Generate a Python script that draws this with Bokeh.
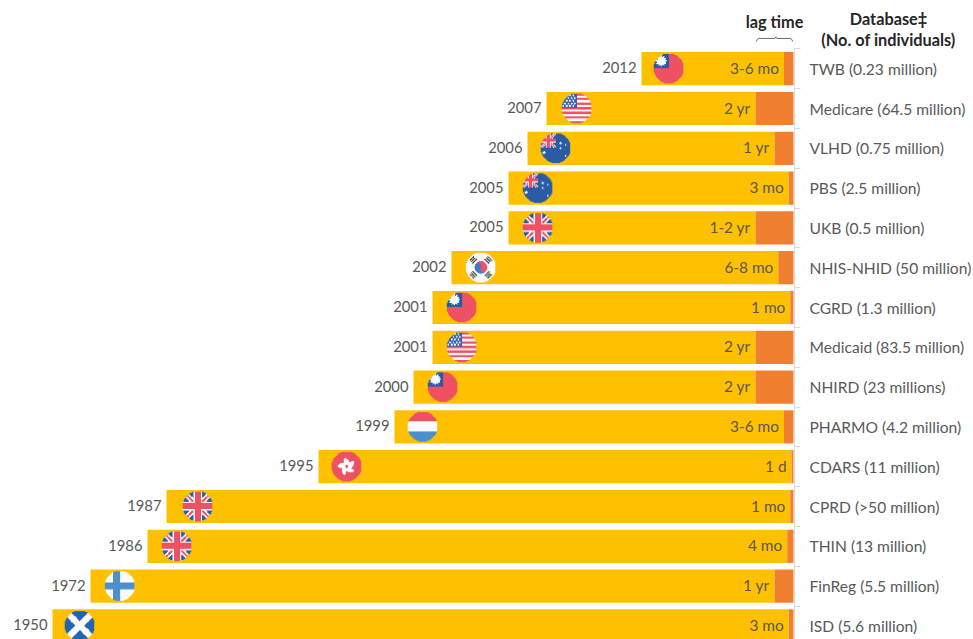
import numpy as np
from bokeh.embed import file_html
from bokeh.models import FixedTicker, LinearAxis, Range1d
from bokeh.core.properties import value
from bokeh.plotting import figure
from bokeh.resources import INLINE

databases = ["TWB (0.23 million)", "Medicare (64.5 million)", "VLHD (0.75 million)", "PBS (2.5 million)",
             "UKB (0.5 million)", "NHIS-NHID (50 million)", "CGRD (1.3 million)", "Medicaid (83.5 million)",
             "NHIRD (23 millions)", "PHARMO (4.2 million)", "CDARS (11 million)", "CPRD (>50 million)",
             "THIN (13 million)", "FinReg (5.5 million)", "ISD (5.6 million)"]
year_labels = ["2012", "2007", "2006", "2005", "2005", "2002", "2001", "2001", "2000", "1999", "1995", "1987",
               "1986", "1972", "1950"]
# Position on the chart's broken time axis (the two earliest bars are compressed in the reference)
axis_start = [2012, 2007, 2006, 2005, 2005, 2002, 2001, 2001, 2000, 1999, 1995, 1987, 1986, 1983, 1981]
axis_end = 2020
lag_years = [0.5, 2, 1, 0.25, 2, 0.8, 0.17, 2, 2, 0.5, 0.1, 0.17, 0.33, 1, 0.25]
lag_labels = ["3-6 mo", "2 yr", "1 yr", "3 mo", "1-2 yr", "6-8 mo", "1 mo", "2 yr", "2 yr", "3-6 mo", "1 d", "1 mo",
              "4 mo", "1 yr", "3 mo"]
flags = ["tw", "us", "au", "au", "uk", "kr", "tw", "us", "tw", "nl", "hk", "uk", "uk", "fi", "sc"]
flag_offset_years = [1.42, 1.58, 1.47, 1.53, 1.53, 1.53, 1.53, 1.53, 1.53, 1.47, 1.47, 1.63, 1.53, 1.53, 1.42]
header_texts = ["lag time", "Database\u2021", "(No. of individuals)"]

GOLD = "#FFC000"
ORANGE = "#F08030"
TEXT = "#595959"
FONT = "Lato"
FS_YEAR = "14.8px"
FS_LAG = "15.4px"
FS_DB = "15.6px"

RED = (238, 80, 100)
BLUE = (42, 92, 165)
LBLUE = (76, 143, 204)
WHITE = (250, 250, 250)
DARK = (85, 85, 85)


def uk_paint(img, X, Y, mask=None):
    m = np.ones_like(X, bool) if mask is None else mask
    img[m] = BLUE
    img[m & (np.abs(np.abs(X) - np.abs(Y)) < 0.25)] = WHITE
    img[m & (np.abs(np.abs(X) - np.abs(Y)) < 0.09)] = RED
    img[m & ((np.abs(X) < 0.3) | (np.abs(Y) < 0.3))] = WHITE
    img[m & ((np.abs(X) < 0.19) | (np.abs(Y) < 0.19))] = RED


def star(X, Y, cx, cy, R, points=5, inner=0.45, rot=np.pi / 2):
    dx, dy = X - cx, Y - cy
    r = np.hypot(dx, dy)
    a = (np.arctan2(dy, dx) - rot) % (2 * np.pi / points)
    a = np.abs(a - np.pi / points) / (np.pi / points)
    return r < R * (inner + (1 - inner) * a ** 2)


def paint_flag(kind, n=64, ss=4):
    N = n * ss
    g = (np.arange(N) + 0.5) / N * 2 - 1
    X, Y = np.meshgrid(g, g)  # row 0 is the lower edge of the image
    img = np.zeros((N, N, 3), float)
    if kind == "uk":
        uk_paint(img, X, Y)
    elif kind == "tw":
        img[:] = RED
        can = (X < 0) & (Y > 0)
        img[can] = (38, 90, 165)
        dx, dy = X + 0.5, Y - 0.5
        r, t = np.hypot(dx, dy), np.arctan2(dy, dx)
        img[can & (r < 0.27 + 0.12 * np.abs(np.cos(6 * t)) ** 2)] = WHITE
    elif kind == "us":
        img[:] = WHITE
        stripe = np.floor((Y + 1) / (2 / 13)).astype(int)
        img[stripe % 2 == 0] = RED
        can = (X < 0) & (Y > 0)
        img[can] = (60, 100, 175)
        cols = np.array([-0.9, -0.68, -0.46, -0.24])
        for j, yy in enumerate([0.86, 0.68, 0.5, 0.32, 0.14]):
            for xx in cols + (0.11 if j % 2 else 0):
                img[can & (np.hypot(X - xx, Y - yy) < 0.06)] = WHITE
    elif kind == "au":
        img[:] = BLUE
        can = (X < 0) & (Y > 0)
        uk_paint(img, (X + 0.5) * 2, (Y - 0.5) * 2, can)
        for cx, cy, R in [(0.33, 0.32, 0.09), (0.67, 0.19, 0.09), (0.33, -0.02, 0.08), (0.67, -0.53, 0.09),
                          (-0.78, -0.32, 0.12)]:
            img[star(X, Y, cx, cy, R, 5, inner=0.6)] = WHITE
    elif kind == "kr":
        img[:] = WHITE
        c, s = np.cos(np.radians(-30)), np.sin(np.radians(-30))
        u, v = c * X + s * Y, -s * X + c * Y
        R = 0.42
        red = v > 0
        red = np.where(np.hypot(u - R / 2, v) < R / 2, True, red)
        red = np.where(np.hypot(u + R / 2, v) < R / 2, False, red)
        inside = np.hypot(X, Y) < R
        img[inside & red] = RED
        img[inside & ~red] = (60, 125, 195)
        for ang in (45, 135, 225, 315):
            a = np.radians(ang)
            d = X * np.cos(a) + Y * np.sin(a)
            t = -X * np.sin(a) + Y * np.cos(a)
            for dd in (0.58, 0.71, 0.84):
                img[(np.abs(d - dd) < 0.042) & (np.abs(t) < 0.2)] = DARK
    elif kind == "nl":
        img[:] = WHITE
        img[Y > 0.34] = RED
        img[Y < -0.34] = LBLUE
    elif kind == "hk":
        img[:] = RED
        for k in range(5):
            a = np.radians(90 + 72 * k)
            px, py = 0.3 * np.cos(a), 0.3 * np.sin(a)
            b = a + np.radians(40)
            dx, dy = X - px, Y - py
            p_ = dx * np.cos(b) + dy * np.sin(b)
            q = -dx * np.sin(b) + dy * np.cos(b)
            img[(p_ / 0.31) ** 2 + (q / 0.15) ** 2 < 1] = WHITE
        img[np.hypot(X, Y) < 0.05] = RED
    elif kind == "fi":
        img[:] = WHITE
        img[(np.abs(X + 0.23) < 0.23) | (np.abs(Y) < 0.24)] = LBLUE
    elif kind == "sc":
        img[:] = (35, 100, 175)
        img[np.abs(np.abs(X) - np.abs(Y)) < 0.3] = WHITE
    alpha = (np.hypot(X, Y) <= 1).astype(float)
    img = img * alpha[..., None]
    img = img.reshape(n, ss, n, ss, 3).mean(axis=(1, 3))
    al = alpha.reshape(n, ss, n, ss).mean(axis=(1, 3))
    safe = np.where(al > 0, al, 1)[..., None]
    rgb = np.clip(img / safe, 0, 255)
    rgba = np.dstack([rgb, al[..., None] * 255]).astype(np.uint8)
    return rgba.view(np.uint32).reshape(n, n)


rows = np.arange(len(databases))[::-1]
starts = np.array(axis_start, float)
lags = np.array(lag_years, float)
lag_start = axis_end - lags

PX_PER_YEAR = 19.0
PX_PER_ROW = 39.8
END_PX = 793
ROW_TOP_PY = 68.2

p = figure(width=973, height=639, output_backend="svg", toolbar_location=None,
           x_axis_location=None, y_axis_location=None, min_border=0, min_border_left=0, min_border_right=0,
           min_border_top=0, min_border_bottom=0,
           x_range=Range1d(axis_end - END_PX / PX_PER_YEAR, axis_end + (973 - END_PX) / PX_PER_YEAR),
           y_range=Range1d(14 - (639 - ROW_TOP_PY) / PX_PER_ROW, 14 + ROW_TOP_PY / PX_PER_ROW))
p.outline_line_color = None
p.grid.visible = False

BAR_H = 33.2 / PX_PER_ROW
p.hbar(y=rows, left=starts, right=lag_start, height=BAR_H, fill_color=GOLD, line_color=None)
p.hbar(y=rows, left=lag_start, right=axis_end, height=BAR_H, fill_color=ORANGE, line_color=None)

p.text(x=starts, y=rows, text=year_labels, text_align="right", text_baseline="middle", x_offset=-5, y_offset=-1,
       text_font=value(FONT), text_font_size=FS_YEAR, text_color=TEXT)
p.text(x=lag_start, y=rows, text=lag_labels, text_align="right", text_baseline="middle", x_offset=-5, y_offset=-1,
       text_font=value(FONT), text_font_size=FS_LAG, text_color=TEXT)

dw, dh = 29.5 / PX_PER_YEAR, 29.5 / PX_PER_ROW
for i, kind in enumerate(flags):
    p.image_rgba(image=[paint_flag(kind)], x=starts[i] + flag_offset_years[i] - dw / 2, y=rows[i] - dh / 2,
                 dw=dw, dh=dh)

yaxis = LinearAxis(ticker=FixedTicker(ticks=list(rows), minor_ticks=[float(r) + 0.5 for r in rows]),
                   major_label_overrides={int(r): d for r, d in zip(rows, databases)},
                   major_tick_line_color=None, major_tick_in=0, major_tick_out=0,
                   minor_tick_in=0, minor_tick_out=6, minor_tick_line_color="#D9D9D9",
                   axis_line_color="#D9D9D9", major_label_standoff=9,
                   major_label_text_font=FONT, major_label_text_font_size=FS_DB, major_label_text_color=TEXT,
                   bounds=(14 - (639 - ROW_TOP_PY) / PX_PER_ROW, 14.5),
                   fixed_location=axis_end + 1 / PX_PER_YEAR)
p.add_layout(yaxis, "right")

# lag-time brace above the first row
bx = [-1.95, -1.92, -1.85, -0.98, -0.93, -0.88, -0.15, -0.08, -0.05]
by = [14.685, 14.73, 14.76, 14.76, 14.8, 14.76, 14.76, 14.73, 14.685]
p.line(x=[axis_end + b for b in bx], y=by, line_color="#595959", line_width=0.9)

header_x = [axis_end + (px - END_PX) / PX_PER_YEAR for px in (774, 888, 888)]
header_y = [14 - (py - ROW_TOP_PY) / PX_PER_ROW for py in (21, 17.5, 38.5)]
p.text(x=header_x, y=header_y, text=header_texts, text_align="center", text_baseline="middle",
       text_font=value(FONT), text_font_size="16.3px", text_font_style="bold", text_color="#262626")

open("out.html", "w").write(file_html(p, INLINE))
